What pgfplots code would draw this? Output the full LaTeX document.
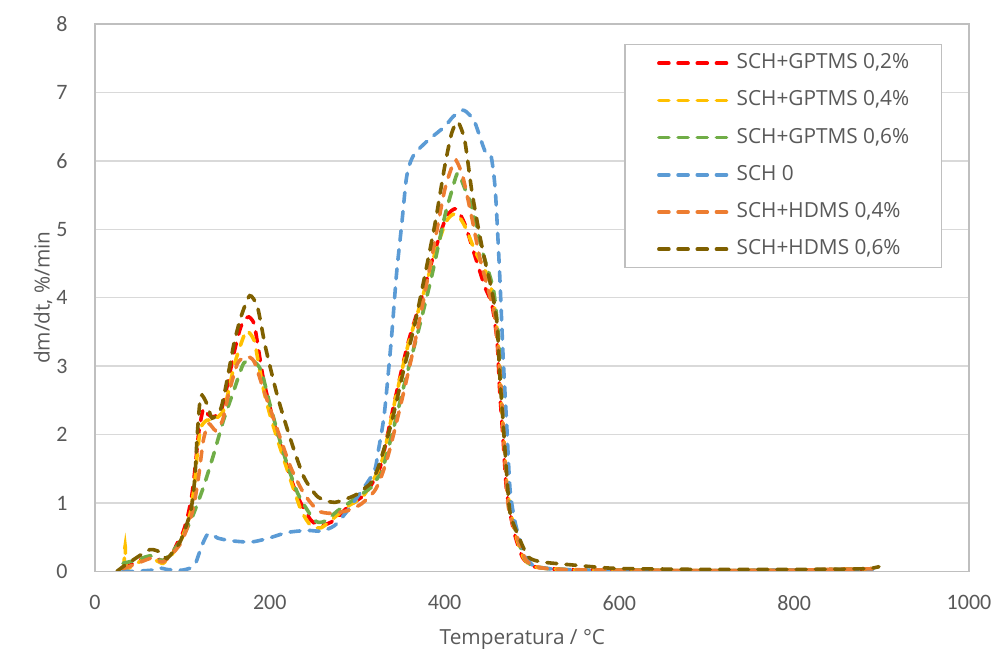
\documentclass[border=0pt]{standalone}
\usepackage{pgfplots}
\pgfplotsset{compat=1.18}
\usepackage{pgfplotstable}
\usepackage{fontspec}
\setmainfont{Open Sans}
\newfontfamily\calib{Carlito}
\definecolor{cRed}{HTML}{FF0000}
\definecolor{cYel}{HTML}{FFC000}
\definecolor{cGrn}{HTML}{70AD47}
\definecolor{cBlu}{HTML}{5B9BD5}
\definecolor{cOra}{HTML}{ED7D31}
\definecolor{cBrn}{HTML}{7F6000}
\definecolor{axisgray}{HTML}{BFBFBF}
\definecolor{gridgray}{HTML}{D9D9D9}
\definecolor{textgray}{HTML}{595959}

\pgfplotstableread{
T y
32 0.05
45 0.12
59 0.21
70 0.19
78 0.16
88 0.25
94 0.41
100 0.55
105 0.75
110 1.05
113 1.33
116 1.70
119 2.06
124 2.38
129 2.30
134 2.26
140 2.28
144 2.33
151 2.70
159 3.19
165 3.50
170 3.67
176 3.72
182 3.62
187 3.25
193 2.79
205 2.16
220 1.52
232 1.09
247 0.75
259 0.67
274 0.75
289 0.94
308 1.12
320 1.35
328 1.60
343 2.50
358 3.33
374 4.01
389 4.69
402 5.18
413 5.30
423 5.08
435 4.60
446 4.16
454 3.91
460 3.38
463 2.65
467 1.92
471 1.18
479 0.60
489 0.21
500 0.08
520 0.04
560 0.02
600 0.02
700 0.01
800 0.02
890 0.04
}\tRed

\pgfplotstableread{
T y
33 0.05
34.5 0.37
36 0.05
45 0.10
59 0.19
70 0.16
78 0.12
88 0.25
94 0.36
100 0.50
109 0.85
114 1.30
117 1.72
121 2.10
128 2.21
136 2.21
147 2.35
153 2.65
159 3.00
165 3.25
170 3.43
174 3.52
182 3.38
187 3.05
193 2.65
200 2.30
209 1.92
224 1.33
236 0.89
247 0.67
259 0.64
274 0.79
289 0.95
308 1.12
328 1.60
343 2.48
358 3.30
374 3.98
389 4.65
402 5.12
413 5.23
423 5.05
435 4.68
450 4.30
456 3.95
461 3.40
464 2.65
468 1.92
472 1.18
480 0.60
490 0.21
500 0.08
520 0.04
560 0.02
600 0.02
700 0.01
800 0.02
890 0.04
}\tYel

\pgfplotstableread{
T y
32 0.12
45 0.16
63 0.23
70 0.20
78 0.16
88 0.28
98 0.45
105 0.62
113 0.85
124 1.23
136 1.72
147 2.21
159 2.65
170 3.04
180 3.08
190 2.94
201 2.40
216 1.72
232 1.14
251 0.75
262 0.73
278 0.89
297 1.06
316 1.23
324 1.38
328 1.45
339 1.96
354 2.74
370 3.52
385 4.30
400 5.18
408 5.55
415 5.82
423 5.60
431 5.33
443 4.69
456 4.11
462 3.38
466 2.65
469 1.92
473 1.18
481 0.60
491 0.21
500 0.09
520 0.04
560 0.02
600 0.02
700 0.01
800 0.02
890 0.04
}\tGrn

\pgfplotstableread{
T y
32 0.01
42 0.00
55 0.01
65 0.02
75 0.05
82 0.03
94 0.02
100 0.02
109 0.05
115 0.12
119 0.26
123 0.40
128 0.53
133 0.55
140 0.49
155 0.45
178 0.43
197 0.48
220 0.57
243 0.60
259 0.59
274 0.67
289 0.89
308 1.23
320 1.48
324 1.75
331 2.30
339 3.38
345 4.35
351 5.08
356 5.72
360 5.95
366 6.11
381 6.30
400 6.50
410 6.65
421 6.74
428 6.68
435 6.55
446 6.15
453 6.08
458 5.57
463 4.35
467 3.13
471 2.16
475 1.18
481 0.70
490 0.31
500 0.10
520 0.04
560 0.02
600 0.01
700 0.01
800 0.02
890 0.03
}\tBlu

\pgfplotstableread{
T y
32 0.04
45 0.10
63 0.19
70 0.17
78 0.14
88 0.25
98 0.41
105 0.62
111 0.85
115 1.10
119 1.43
124 1.92
130 2.16
138 2.06
146 2.21
153 2.60
163 3.04
173 3.14
182 3.07
193 2.65
209 2.06
224 1.52
239 1.14
255 0.89
270 0.85
289 0.89
305 0.99
320 1.18
328 1.40
337 1.77
351 2.50
364 3.23
375 3.91
389 4.84
400 5.57
408 5.90
413 6.01
421 5.76
431 5.18
440 4.60
450 4.11
457 3.75
462 3.13
466 2.40
469 1.67
473 0.94
483 0.50
493 0.17
505 0.07
530 0.03
600 0.02
700 0.01
800 0.02
890 0.04
}\tOra

\pgfplotstableread{
T y
25 0.00
32 0.07
45 0.18
63 0.32
75 0.28
82 0.19
90 0.30
98 0.45
109 0.85
113 1.20
115 1.52
117 2.00
121 2.57
128 2.45
134 2.24
144 2.38
151 2.79
159 3.33
167 3.72
177 4.03
186 3.86
195 3.28
209 2.55
224 1.92
239 1.38
255 1.09
274 1.01
297 1.11
308 1.21
316 1.30
324 1.52
339 2.16
354 2.99
366 3.62
377 4.30
389 5.08
400 5.91
408 6.40
415 6.57
423 6.30
431 5.57
439 4.99
446 4.55
454 4.11
460 3.62
463 2.89
467 2.16
471 1.43
475 0.85
485 0.50
496 0.21
511 0.14
542 0.10
588 0.05
620 0.04
700 0.03
800 0.03
880 0.04
897 0.07
}\tBrn

\begin{document}
\begin{tikzpicture}
\begin{axis}[
  scale only axis,
  width=437pt, height=273.75pt,
  xmin=0, xmax=1000, ymin=0, ymax=8,
  xtick={0,200,...,1000}, ytick={0,1,...,8},
  axis line style={draw=axisgray, line width=0.75pt},
  major tick length=0pt,
  ymajorgrids,
  grid style={draw=gridgray, line width=0.75pt},
  /pgf/number format/assume math mode=true,
  /pgf/number format/1000 sep={},
  tick label style={font=\calib\fontsize{11}{13}\selectfont, text=textgray},
  xticklabel style={inner sep=0pt, anchor=north, yshift=-11.75pt},
  yticklabel style={inner sep=0pt, anchor=east, xshift=-13.5pt},
  xlabel={Temperatura / °C},
  ylabel={dm/dt, \%/min},
  every axis x label/.style={at={(axis description cs:0.489,-0.1342)}, anchor=base, font=\fontsize{10.4}{12}\selectfont, text=textgray},
  every axis y label/.style={at={(axis description cs:-0.0595,0.5)}, rotate=90, anchor=center, font=\fontsize{10.4}{12}\selectfont, text=textgray},
  legend cell align=left,
  legend style={at={(axis description cs:0.9691,0.9635)}, anchor=north east,
    draw=axisgray, line width=0.75pt, inner xsep=16pt, inner ysep=4.5pt,
    row sep=9.1pt, column sep=3pt,
    nodes={inner sep=0pt, text height=7.5pt, text depth=2pt, font=\fontsize{10.4}{12}\selectfont, text=textgray}},
  legend image code/.code={\draw[#1] (0pt,0pt) -- (35pt,0pt);},
  every axis plot/.append style={line width=1.8pt, line cap=round, dash pattern=on 5pt off 4.6pt, smooth, tension=0.4},
]
\addplot[cRed] table[x=T,y=y] {\tRed};
\addlegendentry{SCH+GPTMS 0,2\%}
\addplot[cYel] table[x=T,y=y] {\tYel};
\addlegendentry{SCH+GPTMS 0,4\%}
\addplot[cGrn] table[x=T,y=y] {\tGrn};
\addlegendentry{SCH+GPTMS 0,6\%}
\addplot[cBlu] table[x=T,y=y] {\tBlu};
\addlegendentry{SCH 0}
\addplot[cOra] table[x=T,y=y] {\tOra};
\addlegendentry{SCH+HDMS 0,4\%}
\addplot[cBrn] table[x=T,y=y] {\tBrn};
\addlegendentry{SCH+HDMS 0,6\%}
\draw[axisgray, line width=0.75pt] (rel axis cs:0,0) rectangle (rel axis cs:1,1);
\coordinate (SW) at (rel axis cs:0,0);
\coordinate (NE) at (rel axis cs:1,1);
\end{axis}
\pgfresetboundingbox
\path[use as bounding box] ([xshift=-47.5pt,yshift=-41.75pt]SW) rectangle ([xshift=14pt,yshift=12pt]NE);
\end{tikzpicture}
\end{document}
